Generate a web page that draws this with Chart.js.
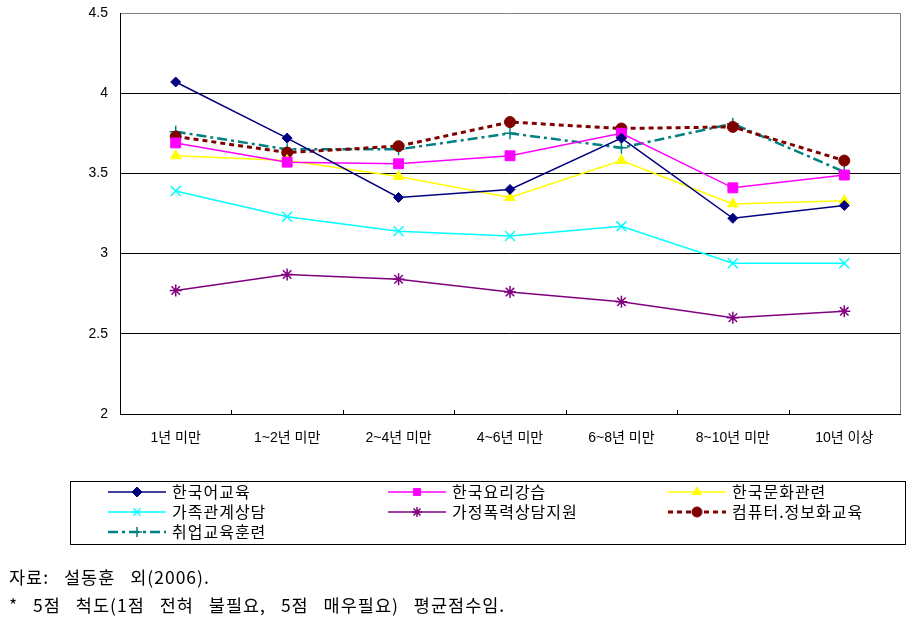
<!DOCTYPE html>
<html>
<head>
<meta charset="utf-8">
<script src="https://cdn.jsdelivr.net/npm/chart.js@4/dist/chart.umd.min.js"></script>
<style>
  body { margin: 0; background: #fff; }
  #wrap { position: relative; width: 922px; height: 619px; }
  .note { position: absolute; left: 9px; font-family: "Noto Sans CJK KR", sans-serif; font-size: 17.5px; line-height: 26px;
          word-spacing: 10px; letter-spacing: 1px; color: #000; white-space: nowrap; }
</style>
</head>
<body>
<div id="wrap">
  <canvas id="lineChart" width="922" height="619"></canvas>
  <div class="note" style="top:564px">자료: 설동훈 외(2006).</div>
  <div class="note" style="top:592px">* 5점 척도(1점 전혀 불필요, 5점 매우필요) 평균점수임.</div>
</div>
<script>
// Categories (residence period)
const periods = ['1년 미만', '1~2년 미만', '2~4년 미만', '4~6년 미만', '6~8년 미만', '8~10년 미만', '10년 이상'];

// Series values
const koreanLang   = [4.07, 3.72, 3.35, 3.40, 3.72, 3.22, 3.30];
const koreanCook   = [3.69, 3.57, 3.56, 3.61, 3.75, 3.41, 3.49];
const koreanCult   = [3.61, 3.58, 3.48, 3.35, 3.58, 3.31, 3.33];
const familyCouns  = [3.39, 3.23, 3.14, 3.11, 3.17, 2.94, 2.94];
const violenceHelp = [2.77, 2.87, 2.84, 2.76, 2.70, 2.60, 2.64];
const computerEdu  = [3.73, 3.63, 3.67, 3.82, 3.78, 3.79, 3.58];
const jobTraining  = [3.76, 3.65, 3.65, 3.75, 3.66, 3.81, 3.51];

// Y axis ticks
const yTicks = [2, 2.5, 3, 3.5, 4, 4.5];

const fontFamily = '"Liberation Sans", "Noto Sans CJK KR", sans-serif';

function series(label, data, color, style, radius, extra) {
    return Object.assign({
        label: label,
        data: data,
        borderColor: color,
        backgroundColor: color,
        pointBackgroundColor: color,
        pointBorderColor: color,
        pointStyle: style,
        pointRadius: radius,
        pointHoverRadius: radius,
        pointBorderWidth: 1,
        borderWidth: 1.5,
        tension: 0,
        fill: false
    }, extra || {});
}

const datasets = [
    series('한국어교육', koreanLang, '#000080', 'rectRot', 5),
    series('한국요리강습', koreanCook, '#FF00FF', 'rect', 7),
    series('한국문화관련', koreanCult, '#FFFF00', 'triangle', 6),
    series('가족관계상담', familyCouns, '#00FFFF', 'crossRot', 7, { pointBorderWidth: 1.5 }),
    series('가정폭력상담지원', violenceHelp, '#800080', 'star', 6, { pointBorderWidth: 1.5 }),
    series('컴퓨터.정보화교육', computerEdu, '#800000', 'circle', 5.5, { borderWidth: 3, borderDash: [5, 4] }),
    series('취업교육훈련', jobTraining, '#008080', 'cross', 6, { borderWidth: 2.5, borderDash: [10, 4, 3, 4], pointBorderWidth: 1.5 })
];

// Frame pieces: grey right edge and small inward ticks on the category axis
const framePlugin = {
    id: 'frame',
    beforeDatasetsDraw(chart) {
        const ctx = chart.ctx;
        const area = chart.chartArea;
        const xs = chart.scales.x;
        ctx.save();
        ctx.strokeStyle = '#808080';
        ctx.lineWidth = 1;
        ctx.beginPath();
        ctx.moveTo(Math.round(area.right) + 0.5, area.top);
        ctx.lineTo(Math.round(area.right) + 0.5, area.bottom);
        ctx.stroke();
        ctx.strokeStyle = '#000';
        ctx.beginPath();
        for (let i = 0; i < periods.length - 1; i++) {
            const x = Math.round((xs.getPixelForValue(i) + xs.getPixelForValue(i + 1)) / 2) + 0.5;
            ctx.moveTo(x, area.bottom - 4);
            ctx.lineTo(x, area.bottom);
        }
        ctx.stroke();
        ctx.restore();
    }
};

// Boxed legend in three columns below the chart
const legendPlugin = {
    id: 'boxLegend',
    afterDraw(chart) {
        const ctx = chart.ctx;
        ctx.save();
        ctx.strokeStyle = '#000';
        ctx.lineWidth = 1;
        ctx.setLineDash([]);
        ctx.strokeRect(70.5, 481.5, 835, 63);
        chart.data.datasets.forEach((ds, i) => {
            const col = i % 3;
            const row = Math.floor(i / 3);
            const x0 = 108 + col * 280;
            const x1 = x0 + 58;
            const y = 492 + row * 20;
            ctx.strokeStyle = ds.borderColor;
            ctx.lineWidth = ds.borderWidth;
            ctx.setLineDash(ds.borderDash || []);
            ctx.beginPath();
            ctx.moveTo(x0, y);
            ctx.lineTo(x1, y);
            ctx.stroke();
            ctx.setLineDash([]);
            ctx.fillStyle = ds.pointBackgroundColor;
            ctx.strokeStyle = ds.pointBorderColor;
            ctx.lineWidth = ds.pointBorderWidth;
            Chart.helpers.drawPoint(ctx, {
                pointStyle: ds.pointStyle,
                rotation: 0,
                radius: Math.min(ds.pointRadius, 5),
                borderWidth: ds.pointBorderWidth
            }, (x0 + x1) / 2, y);
            ctx.fillStyle = '#000';
            ctx.font = '16px "Noto Sans CJK KR", sans-serif';
            ctx.letterSpacing = '1px';
            ctx.textBaseline = 'middle';
            ctx.fillText(ds.label, x1 + 6, y);
            ctx.letterSpacing = '0px';
        });
        ctx.restore();
    }
};

const chartConfig = {
    type: 'line',
    data: { labels: periods, datasets: datasets },
    options: {
        responsive: false,
        animation: false,
        layout: { padding: { top: 13, right: 22, bottom: 165, left: 0 } },
        plugins: {
            legend: { display: false },
            tooltip: { enabled: false }
        },
        scales: {
            x: {
                offset: true,
                grid: { display: false, drawTicks: false },
                border: { display: true, color: '#000', width: 1 },
                ticks: { color: '#000', padding: 16, maxRotation: 0, font: { family: fontFamily, size: 14 } },
                afterFit(scale) { scale.height = 40; scale.paddingLeft = 0; scale.paddingRight = 0; }
            },
            y: {
                min: yTicks[0],
                max: yTicks[yTicks.length - 1],
                afterBuildTicks(scale) { scale.ticks = yTicks.map(v => ({ value: v })); },
                grid: {
                    drawTicks: false,
                    color: ctx => (ctx.tick && ctx.tick.value === 4.5) ? '#808080' : '#000',
                    lineWidth: 1
                },
                border: { display: true, color: '#000', width: 1 },
                ticks: { color: '#000', padding: 12, font: { family: fontFamily, size: 14 }, callback: v => String(v) },
                afterFit(scale) { scale.width = 120; scale.paddingTop = 0; scale.paddingBottom = 0; }
            }
        }
    },
    plugins: [framePlugin, legendPlugin]
};

new Chart(document.getElementById('lineChart').getContext('2d'), chartConfig);
</script>
</body>
</html>
